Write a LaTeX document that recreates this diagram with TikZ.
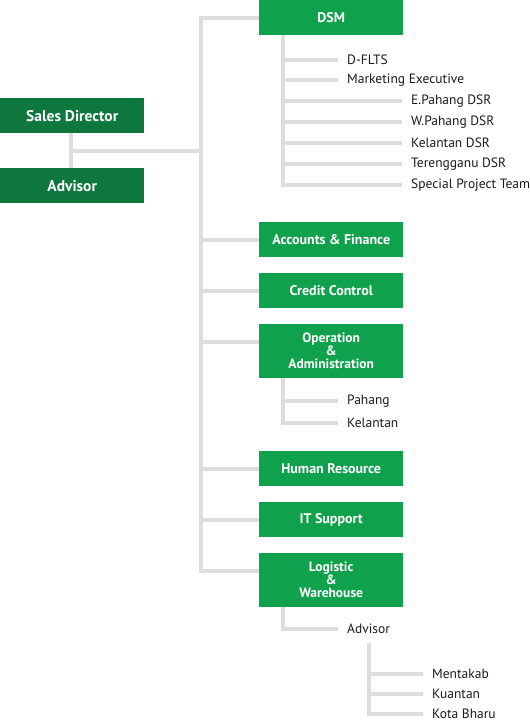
\documentclass[tikz,border=0pt]{standalone}
\usepackage{fontspec}
\setmainfont{PT Sans}
\usepackage{xcolor}
\usepackage{tikz}
\usetikzlibrary{positioning,calc}
\definecolor{DarkGreen}{HTML}{0E773E}
\definecolor{Green}{HTML}{0FA14B}
\definecolor{Rule}{HTML}{DDDDDD}
\definecolor{Ink}{HTML}{1A1A1A}
\tikzset{
  headbox/.style={fill=DarkGreen,text=white,anchor=north west,minimum width=144pt,minimum height=35pt,inner sep=0pt,font=\bfseries\fontsize{15.5}{16}\selectfont},
  unitbox/.style={fill=Green,text=white,anchor=north west,minimum width=144pt,minimum height=35pt,inner sep=0pt,align=center,font=\bfseries\fontsize{14}{12}\selectfont},
  tallbox/.style={unitbox,minimum height=54pt,font=\bfseries\fontsize{13.5}{13}\selectfont},
  item/.style={anchor=west,inner xsep=9pt,inner ysep=0pt,text=Ink,font=\fontsize{13.5}{14}\selectfont},
  link/.style={draw=Rule,line width=4pt,line join=miter}
}
\begin{document}
\begin{tikzpicture}[x=1pt,y=-1pt]
  \useasboundingbox (0,0) rectangle (530,721);
  % left: director and advisor
  \node[headbox] (sd) at (0,98) {Sales Director};
  \node[headbox] (adv) at (0,168) {Advisor};
  % departments
  \node[unitbox] (dsm) at (259,0) {DSM};
  \node[unitbox] (acc) at (259,222) {Accounts \& Finance};
  \node[unitbox] (cc) at (259,273) {Credit Control};
  \node[tallbox] (ops) at (259,324) {Operation\\\&\\Administration};
  \node[unitbox] (hr) at (259,451) {Human Resource};
  \node[unitbox] (it) at (259,502) {IT Support};
  \node[tallbox] (logi) at (259,553) {Logistic\\\&\\Warehouse};
  % DSM team
  \node[item] (dflts) at (338,60) {D-FLTS};
  \node[item] (mkt) at (338,80) {Marketing Executive};
  \node[item] (epdsr) at (402,101) {E.Pahang DSR};
  \node[item] (wpdsr) at (402,122) {W.Pahang DSR};
  \node[item] (kldsr) at (402,143) {Kelantan DSR};
  \node[item] (trdsr) at (402,164) {Terengganu DSR};
  \node[item] (spt) at (402,185) {Special Project Team};
  % operation team
  \node[item] (phg) at (338,401) {Pahang};
  \node[item] (kel) at (338,423) {Kelantan};
  % logistic team
  \node[item] (ladv) at (338,629) {Advisor};
  \node[item] (mtk) at (423,674) {Mentakab};
  \node[item] (ktn) at (423,694) {Kuantan};
  \node[item] (kbr) at (423,714) {Kota Bharu};
  \coordinate (trunk) at (201,151);
  \coordinate (dsmstem) at (283,0);
  \coordinate (advstem) at (369,643);
  \foreach \n in {dsm,acc,cc,ops,hr,it,logi}
    \coordinate (\n-in) at ([yshift=-17.5pt]\n.north west);
  % connectors
  \draw[link] (sd.south -| 71,0) -- (adv.north -| 71,0);
  \draw[link] (71,151) -- (trunk);
  \draw[link] (dsm-in) -| (trunk) |- (logi-in);
  \foreach \n in {acc,cc,ops,hr,it}
    \draw[link] (trunk |- \n-in) -- (\n-in);
  \draw[link] (dsm.south -| dsmstem) |- (spt.west);
  \foreach \n in {dflts,mkt,epdsr,wpdsr,kldsr,trdsr}
    \draw[link] (dsmstem |- \n.west) -- (\n.west);
  \draw[link] (ops.south -| dsmstem) |- (kel.west);
  \draw[link] (dsmstem |- phg.west) -- (phg.west);
  \draw[link] (logi.south -| dsmstem) |- (ladv.west);
  \draw[link] (advstem) |- (kbr.west);
  \foreach \n in {mtk,ktn}
    \draw[link] (advstem |- \n.west) -- (\n.west);
\end{tikzpicture}
\end{document}
